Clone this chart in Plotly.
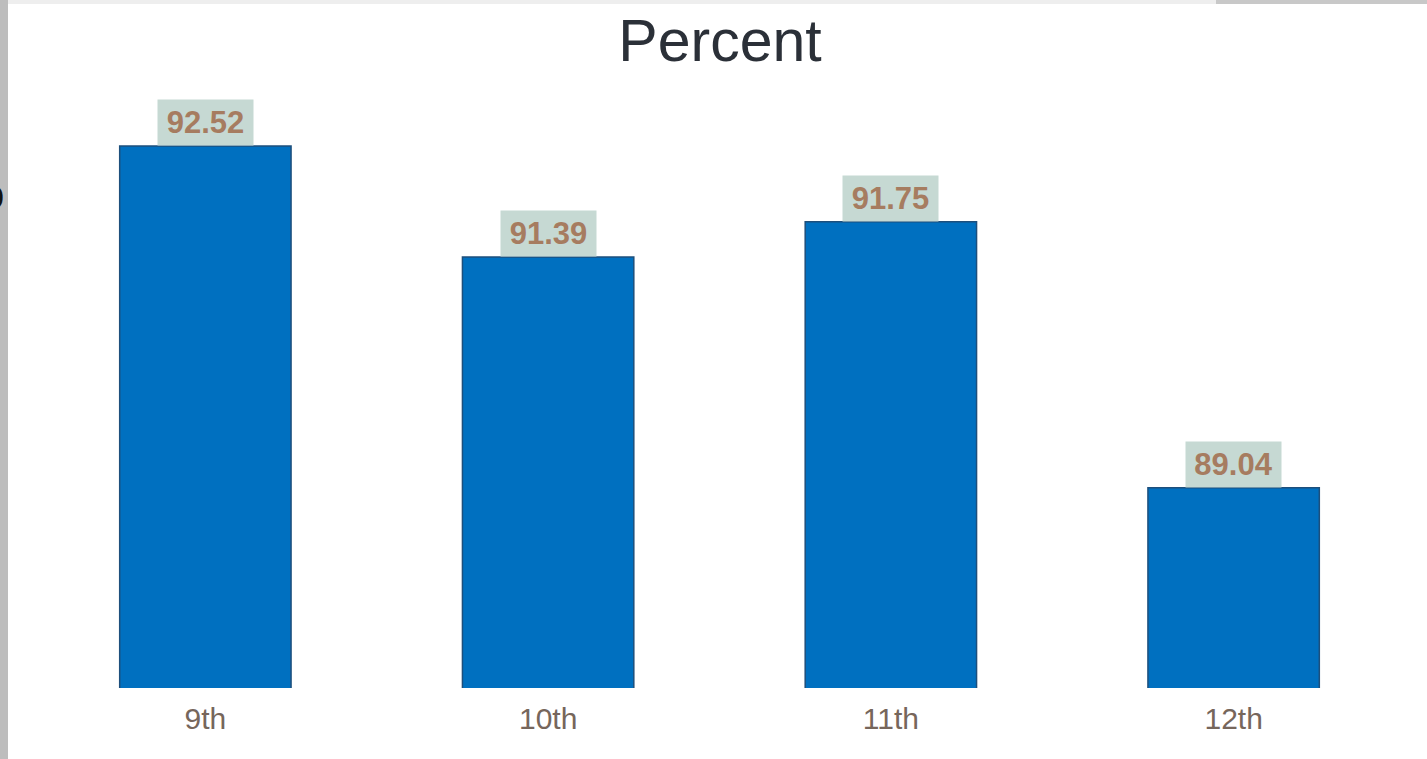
import plotly.graph_objects as go

grades = ["9th", "10th", "11th", "12th"]
percent = [92.52, 91.39, 91.75, 89.04]
labels = ["92.52", "91.39", "91.75", "89.04"]

W, H = 1427, 759
ML, MR, MT, MB = 34, 22, 99, 71
PW, PH = W - ML - MR, H - MT - MB

def px_x(x):
    return (x - ML) / PW

def px_y(y):
    return 1 - (y - MT) / PH

fig = go.Figure()
fig.add_trace(go.Bar(
    x=grades, y=percent, width=0.5,
    marker=dict(color="#0070c0", line=dict(color="#1d4f7c", width=1.5)),
    hoverinfo="skip",
))

for g, v, t in zip(grades, percent, labels):
    fig.add_annotation(
        x=g, y=v, text=t, showarrow=False, yanchor="bottom", xanchor="center",
        bgcolor="#c6d9d3", width=91, height=41, borderpad=2,
        font=dict(family="Liberation Sans, Arial", size=31, color="#a67c60", weight="bold"),
    )

# partial clipped text at left edge
fig.add_annotation(
    x=0, y=px_y(194), xref="paper", yref="paper", text="o", showarrow=False,
    xanchor="right", yanchor="middle", xshift=-ML + 6,
    font=dict(family="Liberation Sans, Arial", size=42, color="#111111"),
)

shapes = [
    dict(type="rect", xref="paper", yref="paper", x0=px_x(0), x1=px_x(8),
         y0=px_y(H), y1=px_y(0), fillcolor="#bdbdbd", line=dict(width=0), layer="below"),
    dict(type="rect", xref="paper", yref="paper", x0=px_x(8), x1=px_x(1216),
         y0=px_y(4), y1=px_y(0), fillcolor="#eeeeee", line=dict(width=0), layer="below"),
    dict(type="rect", xref="paper", yref="paper", x0=px_x(1216), x1=px_x(W),
         y0=px_y(4), y1=px_y(0), fillcolor="#c8c8c8", line=dict(width=0), layer="below"),
]

fig.update_layout(
    width=W, height=H,
    margin=dict(l=ML, r=MR, t=MT, b=MB, pad=0),
    paper_bgcolor="white", plot_bgcolor="white",
    showlegend=False,
    shapes=shapes,
    title=dict(text="Percent", x=(720) / W, xanchor="center", y=1 - 40 / H, yanchor="middle",
               font=dict(family="Liberation Sans, Arial", size=59, color="#2b3038")),
    xaxis=dict(showgrid=False, showline=False, zeroline=False, ticks="",
               tickfont=dict(family="Liberation Sans, Arial", size=30, color="#76665b"),
               ticklabelstandoff=10,
               range=[-0.5, 3.5]),
    yaxis=dict(range=[87, 93], visible=False, showgrid=False, zeroline=False),
)

fig.write_html("out.html", config={"displayModeBar": False},
               post_script="document.body.style.margin='0';document.body.style.overflow='hidden';")
